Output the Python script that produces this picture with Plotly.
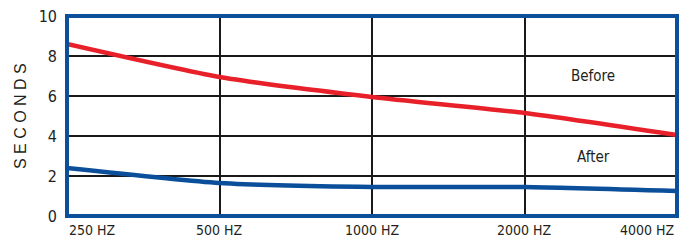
import plotly.graph_objects as go

categories = ["250 HZ", "500 HZ", "1000 HZ", "2000 HZ", "4000 HZ"]
before = [8.6, 6.95, 5.95, 5.15, 4.05]
after = [2.4, 1.65, 1.45, 1.45, 1.25]
y_ticks = [0, 2, 4, 6, 8, 10]

BLUE = "#0b4f9b"
RED = "#e8202a"
FONT = "DejaVu Sans Condensed, Liberation Sans, Arial, sans-serif"
TXT = "#231f20"

idx = list(range(len(categories)))

fig = go.Figure()
fig.add_trace(go.Scatter(x=idx, y=before, mode="lines",
                         line=dict(color=RED, width=4.5, shape="spline", smoothing=0.6),
                         name="Before", showlegend=False, hoverinfo="skip"))
fig.add_trace(go.Scatter(x=idx, y=after, mode="lines",
                         line=dict(color=BLUE, width=4.5, shape="spline", smoothing=0.6),
                         name="After", showlegend=False, hoverinfo="skip"))

fig.update_xaxes(range=[0, len(categories) - 1], tickvals=idx, showticklabels=False,
                 showgrid=True, gridcolor="#1a1a1a", gridwidth=1.5, zeroline=False,
                 showline=False)
fig.update_yaxes(range=[0, 10], tickvals=y_ticks, showgrid=True, gridcolor="#1a1a1a",
                 gridwidth=1.5, zeroline=False, showline=False, ticks="",
                 ticklabelstandoff=9,
                 tickfont=dict(family=FONT, size=16, color=TXT))

annotations = []
for i, c in enumerate(categories):
    anchor = "left" if i == 0 else ("right" if i == len(categories) - 1 else "center")
    annotations.append(dict(x=i, y=0, xref="x", yref="paper", text=c, showarrow=False,
                            xanchor=anchor, yanchor="top", yshift=-4,
                            font=dict(family=FONT, size=14, color=TXT)))
annotations.append(dict(x=3.45, y=7.0, xref="x", yref="y", text="Before", showarrow=False,
                        font=dict(family=FONT, size=15, color=TXT)))
annotations.append(dict(x=3.45, y=2.95, xref="x", yref="y", text="After", showarrow=False,
                        font=dict(family=FONT, size=15, color=TXT)))
annotations.append(dict(x=-0.077, y=0.5, xref="paper", yref="paper", text="S E C O N D S",
                        showarrow=False, textangle=-90, xanchor="center", yanchor="middle",
                        font=dict(family="Liberation Sans, Arial, sans-serif", size=16, color=TXT)))

fig.update_layout(
    width=682, height=240,
    margin=dict(l=67, r=5, t=16, b=24),
    paper_bgcolor="white", plot_bgcolor="white",
    annotations=annotations,
    hovermode=False,
    shapes=[dict(type="rect", xref="paper", yref="paper", x0=0, x1=1, y0=0, y1=1,
                 line=dict(color=BLUE, width=4), layer="above")],
)

fig.write_html("out.html", config={"displayModeBar": False},
               post_script="document.body.style.margin='0px';document.body.style.overflow='hidden';")
